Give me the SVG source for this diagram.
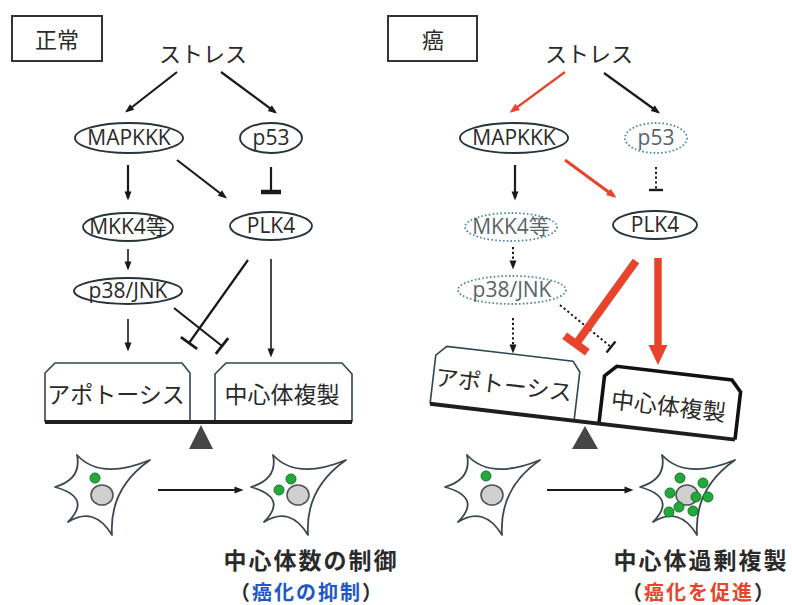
<svg xmlns="http://www.w3.org/2000/svg" xmlns:xlink="http://www.w3.org/1999/xlink" width="792" height="605" viewBox="0 0 792 605">
  <style>
    .jp { font-family: "Noto Sans CJK JP", "Noto Sans CJK SC", sans-serif; fill: #2a2a2a; }
    .cap { font-weight: bold; text-anchor: middle; letter-spacing: 2px; }
    .en { font-family: "Open Sans", "Noto Sans", "Noto Sans CJK JP", sans-serif; font-size: 21px; fill: #2a2a2a; text-anchor: middle; }
    .en.faint { fill: #5a6468; }
    .tag { fill: none; stroke: #333; stroke-width: 2; }
    .solid { fill: #fff; stroke: #26343c; stroke-width: 1.9; }
    .dotted { fill: #fff; stroke: #4f8aa3; stroke-width: 1.8; stroke-dasharray: 1.6 2.2; }
    .ln { fill: none; stroke: #1a1a1a; stroke-width: 2.2; }
    .ln.thin { stroke-width: 1.6; }
    .ln.dash { stroke-width: 2; stroke-dasharray: 2.2 2.6; }
    .red { fill: none; stroke: #e8432b; }
    .pan { fill: #fff; stroke: #2f4550; stroke-width: 1.6; }
    .pan.heavy { stroke: #111; stroke-width: 3.6; }
    .beam { stroke: #1e1e1e; stroke-width: 4; }
    .pivot { fill: #454545; }
    .cell { fill: #fff; stroke: #3a4850; stroke-width: 1.8; stroke-linejoin: round; }
    .nuc { fill: #d0d0d0; stroke: #505558; stroke-width: 1.6; }
    .cen { fill: #22a83c; stroke: #137a28; stroke-width: 1; }
  </style>
  <defs>
    <marker id="head" markerUnits="userSpaceOnUse" markerWidth="9" markerHeight="7" refX="6.5" refY="3.5" orient="auto" overflow="visible">
      <path d="M0,0 L9,3.5 L0,7 z" fill="#1a1a1a"/>
    </marker>
    <marker id="headRed" markerUnits="userSpaceOnUse" markerWidth="10" markerHeight="8" refX="7" refY="4" orient="auto" overflow="visible">
      <path d="M0,0 L10,4 L0,8 z" fill="#e8432b"/>
    </marker>
    <marker id="headRedBig" markerUnits="userSpaceOnUse" markerWidth="20" markerHeight="19" refX="11" refY="9.5" orient="auto" overflow="visible">
      <path d="M0,0 L20,9.5 L0,19 z" fill="#e8432b"/>
    </marker>
    <marker id="bar" markerUnits="userSpaceOnUse" markerWidth="3" markerHeight="20" refX="0" refY="0" orient="auto" overflow="visible">
      <path d="M0,-10 V10" stroke="#1a1a1a" stroke-width="2.8"/>
    </marker>
    <marker id="barHeavy" markerUnits="userSpaceOnUse" markerWidth="5" markerHeight="22" refX="0" refY="0" orient="auto" overflow="visible">
      <path d="M0,-10 V10" stroke="#1a1a1a" stroke-width="4.5"/>
    </marker>
    <marker id="barSmall" markerUnits="userSpaceOnUse" markerWidth="3" markerHeight="14" refX="0" refY="0" orient="auto" overflow="visible">
      <path d="M0,-7 V7" stroke="#1a1a1a" stroke-width="2.4"/>
    </marker>
    <marker id="barRed" markerUnits="userSpaceOnUse" markerWidth="8" markerHeight="30" refX="0" refY="0" orient="auto" overflow="visible">
      <path d="M0,-14 V14" stroke="#e8432b" stroke-width="8"/>
    </marker>
    <!-- cell outline with nucleus, centred on the nucleus -->
    <g id="cellBody">
      <path class="cell" d="M-25,-40 Q-1.5,-14.5 48,-35 Q7,-6.5 10,40 Q-8,10.5 -34,27 Q-9.5,2.5 -47,-8 Q-20,-16 -25,-40 Z"/>
      <ellipse class="nuc" cx="0" cy="0" rx="11" ry="10"/>
    </g>
  </defs>

  <rect width="792" height="605" fill="#fff"/>

  <!-- ===== normal cell panel ===== -->
  <g id="tag-normal">
    <rect class="tag" x="12" y="16" width="90" height="45"/>
    <text class="jp" x="57" y="48" font-size="22" text-anchor="middle">正常</text>
  </g>
  <g id="stress-normal">
    <text class="jp" x="203" y="62" font-size="22" text-anchor="middle">ストレス</text>
  </g>
  <g id="mapkkk-normal">
    <ellipse class="solid" cx="129" cy="138" rx="54" ry="15"/>
    <text class="en" x="129" y="145">MAPKKK</text>
  </g>
  <g id="p53-normal">
    <ellipse class="solid" cx="271" cy="138" rx="31" ry="15"/>
    <text class="en" x="271" y="145">p53</text>
  </g>
  <g id="mkk4-normal">
    <ellipse class="solid" cx="128" cy="227" rx="45" ry="14"/>
    <text class="en" x="128" y="234">MKK4等</text>
  </g>
  <g id="plk4-normal">
    <ellipse class="solid" cx="271" cy="226" rx="41" ry="14"/>
    <text class="en" x="271" y="233">PLK4</text>
  </g>
  <g id="p38-normal">
    <ellipse class="solid" cx="128" cy="291" rx="54" ry="13"/>
    <text class="en" x="128" y="298">p38/JNK</text>
  </g>

  <g id="connectors-normal">
    <line class="ln" x1="177" y1="72" x2="127" y2="111" marker-end="url(#head)"/>
    <line class="ln" x1="221" y1="72" x2="275" y2="112" marker-end="url(#head)"/>
    <line class="ln" x1="128" y1="165" x2="128" y2="198" marker-end="url(#head)"/>
    <line class="ln" x1="177" y1="160" x2="225" y2="197" marker-end="url(#head)"/>
    <line class="ln" x1="271" y1="167" x2="271" y2="192" stroke-width="4.5" marker-end="url(#barHeavy)"/>
    <line class="ln thin" x1="128" y1="249" x2="128" y2="268" marker-end="url(#head)"/>
    <line class="ln thin" x1="128" y1="319" x2="128" y2="349" marker-end="url(#head)"/>
    <line class="ln thin" x1="271" y1="259" x2="271" y2="355" marker-end="url(#head)"/>
    <line class="ln" x1="248" y1="260" x2="189" y2="343" stroke-width="2.6" marker-end="url(#bar)"/>
    <line class="ln" x1="174" y1="308" x2="222" y2="346" stroke-width="2.6" marker-end="url(#bar)"/>
    <line class="ln" x1="158" y1="490" x2="241" y2="490" marker-end="url(#head)"/>
  </g>

  <g id="balance-normal">
    <path class="pan" d="M45,422 V373 L55,363 H182 L190,373 V422"/>
    <text class="jp" x="116" y="403" font-size="23" text-anchor="middle">アポトーシス</text>
    <path class="pan" d="M215,422 V374 L226,363 H342 L352,374 V422"/>
    <text class="jp" x="282" y="403" font-size="23" text-anchor="middle">中心体複製</text>
    <line class="beam" x1="45" y1="422" x2="352" y2="422"/>
    <path class="pivot" d="M201,425 L213,449 L189,449 Z"/>
  </g>

  <g id="cell-normal-before">
    <use xlink:href="#cellBody" href="#cellBody" transform="translate(102 495)"/>
    <circle class="cen" cx="95" cy="478" r="5"/>
  </g>
  <g id="cell-normal-after">
    <use xlink:href="#cellBody" href="#cellBody" transform="translate(298 495)"/>
    <circle class="cen" cx="291" cy="479" r="5"/>
    <circle class="cen" cx="279" cy="490" r="5"/>
  </g>

  <g id="caption-normal">
    <text class="jp cap" x="311" y="569" font-size="23">中心体数の制御</text>
    <text class="jp cap" x="307" y="600" font-size="20">（<tspan fill="#2157c4">癌化の抑制</tspan>）</text>
  </g>

  <!-- ===== cancer panel ===== -->
  <g id="tag-cancer">
    <rect class="tag" x="388" y="16" width="89" height="45"/>
    <text class="jp" x="433" y="48" font-size="22" text-anchor="middle">癌</text>
  </g>
  <g id="stress-cancer">
    <text class="jp" x="589" y="62" font-size="22" text-anchor="middle">ストレス</text>
  </g>
  <g id="mapkkk-cancer">
    <ellipse class="solid" cx="514" cy="138" rx="54" ry="15"/>
    <text class="en" x="514" y="145">MAPKKK</text>
  </g>
  <g id="p53-cancer">
    <ellipse class="dotted" cx="656" cy="138" rx="31" ry="15"/>
    <text class="en faint" x="656" y="145">p53</text>
  </g>
  <g id="mkk4-cancer">
    <ellipse class="dotted" cx="511" cy="227" rx="46" ry="14"/>
    <text class="en faint" x="511" y="234">MKK4等</text>
  </g>
  <g id="plk4-cancer">
    <ellipse class="solid" cx="655" cy="225" rx="42" ry="14"/>
    <text class="en" x="655" y="232">PLK4</text>
  </g>
  <g id="p38-cancer">
    <ellipse class="dotted" cx="512" cy="290" rx="54" ry="14"/>
    <text class="en faint" x="512" y="297">p38/JNK</text>
  </g>

  <g id="connectors-cancer">
    <line class="red" x1="565" y1="72" x2="512" y2="111" stroke-width="2.2" marker-end="url(#headRed)"/>
    <line class="ln" x1="604" y1="73" x2="658" y2="112" marker-end="url(#head)"/>
    <line class="ln" x1="515" y1="165" x2="515" y2="198" marker-end="url(#head)"/>
    <line class="red" x1="565" y1="160" x2="614" y2="196" stroke-width="3" marker-end="url(#headRed)"/>
    <line class="ln dash" x1="656" y1="167" x2="656" y2="190" marker-end="url(#barSmall)"/>
    <line class="ln dash" x1="513" y1="247" x2="513" y2="267" marker-end="url(#head)"/>
    <line class="ln dash" x1="513" y1="318" x2="513" y2="351" marker-end="url(#head)"/>
    <line class="ln dash" x1="560" y1="305" x2="611" y2="347" marker-end="url(#barSmall)"/>
    <line class="red" x1="636" y1="261" x2="576" y2="344" stroke-width="8" marker-end="url(#barRed)"/>
    <line class="red" x1="658" y1="258" x2="658" y2="356" stroke-width="7.5" marker-end="url(#headRedBig)"/>
    <line class="ln" x1="547" y1="490" x2="631" y2="490" marker-end="url(#head)"/>
  </g>

  <g id="balance-cancer">
    <g transform="rotate(6.7 585 422) translate(384 0)">
      <path class="pan" d="M45,422 V373 L55,363 H182 L190,373 V422"/>
      <text class="jp" x="116" y="403" font-size="23" text-anchor="middle">アポトーシス</text>
      <path class="pan heavy" d="M215,422 V374 L226,363 H342 L352,374 V422"/>
      <text class="jp" x="282" y="405" font-size="23" text-anchor="middle">中心体複製</text>
      <line class="beam" x1="45" y1="422" x2="352" y2="422"/>
    </g>
    <path class="pivot" d="M585,426 L598,449 L572,449 Z"/>
  </g>

  <g id="cell-cancer-before">
    <use xlink:href="#cellBody" href="#cellBody" transform="translate(492 495)"/>
    <circle class="cen" cx="486" cy="476" r="5"/>
  </g>
  <g id="cell-cancer-after">
    <use xlink:href="#cellBody" href="#cellBody" transform="translate(687 495)"/>
    <circle class="cen" cx="680" cy="478" r="5"/>
    <circle class="cen" cx="703" cy="483" r="5"/>
    <circle class="cen" cx="670" cy="493" r="5"/>
    <circle class="cen" cx="696" cy="497" r="5"/>
    <circle class="cen" cx="708" cy="497" r="5"/>
    <circle class="cen" cx="679" cy="507" r="5"/>
    <circle class="cen" cx="669" cy="512" r="5"/>
    <circle class="cen" cx="693" cy="511" r="5"/>
  </g>

  <g id="caption-cancer">
    <text class="jp cap" x="701" y="569" font-size="23">中心体過剰複製</text>
    <text class="jp cap" x="699" y="600" font-size="20">（<tspan fill="#e8432b">癌化を促進</tspan>）</text>
  </g>
</svg>
